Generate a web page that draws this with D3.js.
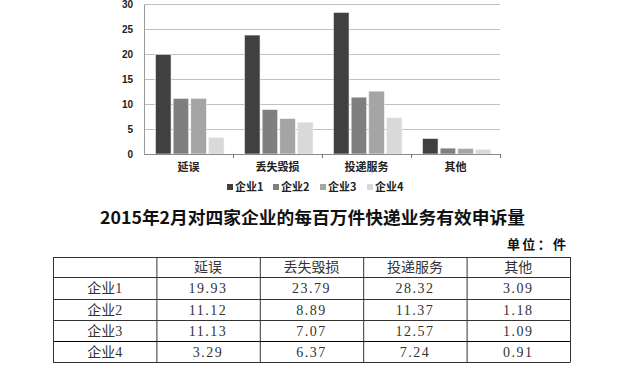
<!DOCTYPE html>
<html><head><meta charset="utf-8">
<script src="https://cdn.jsdelivr.net/npm/d3@7/dist/d3.min.js"></script>
<style>
html,body{margin:0;padding:0;background:#fff;}
svg{display:block;}
</style></head>
<body>
<svg id="c" width="638" height="373"></svg>
<script>
const categories = ["延误", "丢失毁损", "投递服务", "其他"];
const seriesNames = ["企业1", "企业2", "企业3", "企业4"];
const company1 = [19.93, 23.79, 28.32, 3.09];
const company2 = [11.12, 8.89, 11.37, 1.18];
const company3 = [11.13, 7.07, 12.57, 1.09];
const company4 = [3.29, 6.37, 7.24, 0.91];
const yTicks = [0, 5, 10, 15, 20, 25, 30];
const colors = ["#404040", "#7f7f7f", "#a5a5a5", "#d9d9d9"];
const titleText = "2015年2月对四家企业的每百万件快递业务有效申诉量";
const unitText = "单位：件";

const seriesValues = [company1, company2, company3, company4];
const svg = d3.select("#c");
const sans = "Arial, 'Liberation Sans', 'Noto Sans CJK SC', sans-serif";

// chart scales
const x = d3.scaleBand().domain(categories).range([144, 500]).paddingInner(0).paddingOuter(0);
const xs = d3.scaleBand().domain(seriesNames).range([11.5, 80]).paddingInner(0.12);
const y = d3.scaleLinear().domain([0, 30]).range([154, 4]);

// gridlines
svg.append("g").selectAll("line").data(yTicks.filter(d => d > 0)).join("line")
  .attr("x1", 144).attr("x2", 500)
  .attr("y1", d => y(d)).attr("y2", d => y(d))
  .attr("stroke", "#c0c0c0").attr("stroke-width", 1).attr("shape-rendering", "crispEdges");

// bars
const groups = svg.append("g").selectAll("g").data(categories).join("g")
  .attr("transform", d => `translate(${x(d)},0)`);
groups.selectAll("rect").data((c, ci) => seriesNames.map((s, si) => ({s, v: seriesValues[si][ci], si})))
  .join("rect")
  .attr("x", d => xs(d.s)).attr("width", xs.bandwidth())
  .attr("y", d => y(d.v)).attr("height", d => y(0) - y(d.v))
  .attr("fill", d => colors[d.si])
  .attr("stroke", "#f4f4f4").attr("stroke-width", 0.6);

// y axis
const yAxis = d3.axisLeft(y).tickValues(yTicks).tickSize(0).tickPadding(11);
const yg = svg.append("g").attr("transform", "translate(144,0)").call(yAxis);
yg.select(".domain").attr("stroke", "#9a9a9a").attr("shape-rendering", "crispEdges");
yg.selectAll("text").attr("font-family", sans).attr("font-size", 10).attr("font-weight", "bold").attr("fill", "#222");

// x axis
const xAxis = d3.axisBottom(x).tickSize(0).tickPadding(9);
const xg = svg.append("g").attr("transform", "translate(0,154)").call(xAxis);
xg.select(".domain").attr("stroke", "#8a8a8a").attr("shape-rendering", "crispEdges");
xg.selectAll("text").attr("font-family", "'Noto Sans CJK SC', sans-serif").attr("font-size", 11).attr("font-weight", "bold").attr("fill", "#222");
// category boundary ticks
svg.append("g").selectAll("line").data(categories.slice(1).concat(["__end"])).join("line")
  .attr("x1", d => d === "__end" ? 500 : x(d)).attr("x2", d => d === "__end" ? 500 : x(d))
  .attr("y1", 154).attr("y2", 158).attr("stroke", "#777").attr("shape-rendering", "crispEdges");

// legend
const legendX = [227, 273, 320, 367];
const lg = svg.append("g").selectAll("g").data(seriesNames).join("g")
  .attr("transform", (d, i) => `translate(${legendX[i]},187)`);
lg.append("rect").attr("x", 0).attr("y", -3).attr("width", 6).attr("height", 6).attr("fill", (d, i) => colors[i]);
lg.append("text").attr("x", 8).attr("y", 4).text(d => d)
  .attr("font-family", "'Noto Sans CJK SC', sans-serif").attr("font-size", 11).attr("font-weight", "bold").attr("fill", "#222");

// title
svg.append("text").attr("x", 100).attr("y", 224)
  .attr("textLength", 425).attr("lengthAdjust", "spacingAndGlyphs")
  .attr("font-family", "'Noto Sans CJK SC', sans-serif").attr("font-size", 17).attr("font-weight", "bold")
  .attr("fill", "#111").text(titleText);
svg.append("text").attr("x", 507).attr("y", 249)
  .attr("textLength", 59).attr("lengthAdjust", "spacing")
  .attr("font-family", "'Noto Sans CJK SC', sans-serif").attr("font-size", 13).attr("font-weight", "bold")
  .attr("fill", "#111").text(unitText);

// table
const colKeys = ["", ...categories];
const tx = d3.scaleBand().domain(colKeys).range([53, 570]);
const rowEdges = [257, 277, 299, 320, 341, 362];
const tg = svg.append("g");
rowEdges.forEach((ry, i) => {
  tg.append("line").attr("x1", 53).attr("x2", 570).attr("y1", ry + 0.5).attr("y2", ry + 0.5)
    .attr("stroke", i === 4 ? "#000" : "#333").attr("stroke-width", 1);
});
colKeys.concat(["__end"]).forEach(k => {
  const cx = k === "__end" ? 570 : tx(k);
  tg.append("line").attr("x1", cx + 0.5).attr("x2", cx + 0.5).attr("y1", 257).attr("y2", 362.5)
    .attr("stroke", "#333").attr("stroke-width", 1);
});
const tfont = "'Liberation Serif', 'Noto Sans CJK SC', serif";
// header
categories.forEach(c => {
  tg.append("text").attr("x", tx(c) + tx.bandwidth() / 2).attr("y", 272).attr("text-anchor", "middle")
    .attr("font-family", "'Noto Sans CJK SC', sans-serif").attr("font-size", 14).attr("fill", "#333").text(c);
});
seriesNames.forEach((s, si) => {
  const baseY = (rowEdges[si + 1] + rowEdges[si + 2]) / 2 + 5;
  tg.append("text").attr("x", tx("") + tx.bandwidth() / 2).attr("y", baseY).attr("text-anchor", "middle")
    .attr("font-family", tfont).attr("font-size", 14).attr("fill", "#333").text(s);
  categories.forEach((c, ci) => {
    tg.append("text").attr("x", tx(c) + tx.bandwidth() / 2).attr("y", baseY).attr("text-anchor", "middle")
      .attr("font-family", tfont).attr("font-size", 14).attr("letter-spacing", "1.5px").attr("fill", "#333")
      .text(seriesValues[si][ci].toFixed(2));
  });
});
</script>
</body></html>
